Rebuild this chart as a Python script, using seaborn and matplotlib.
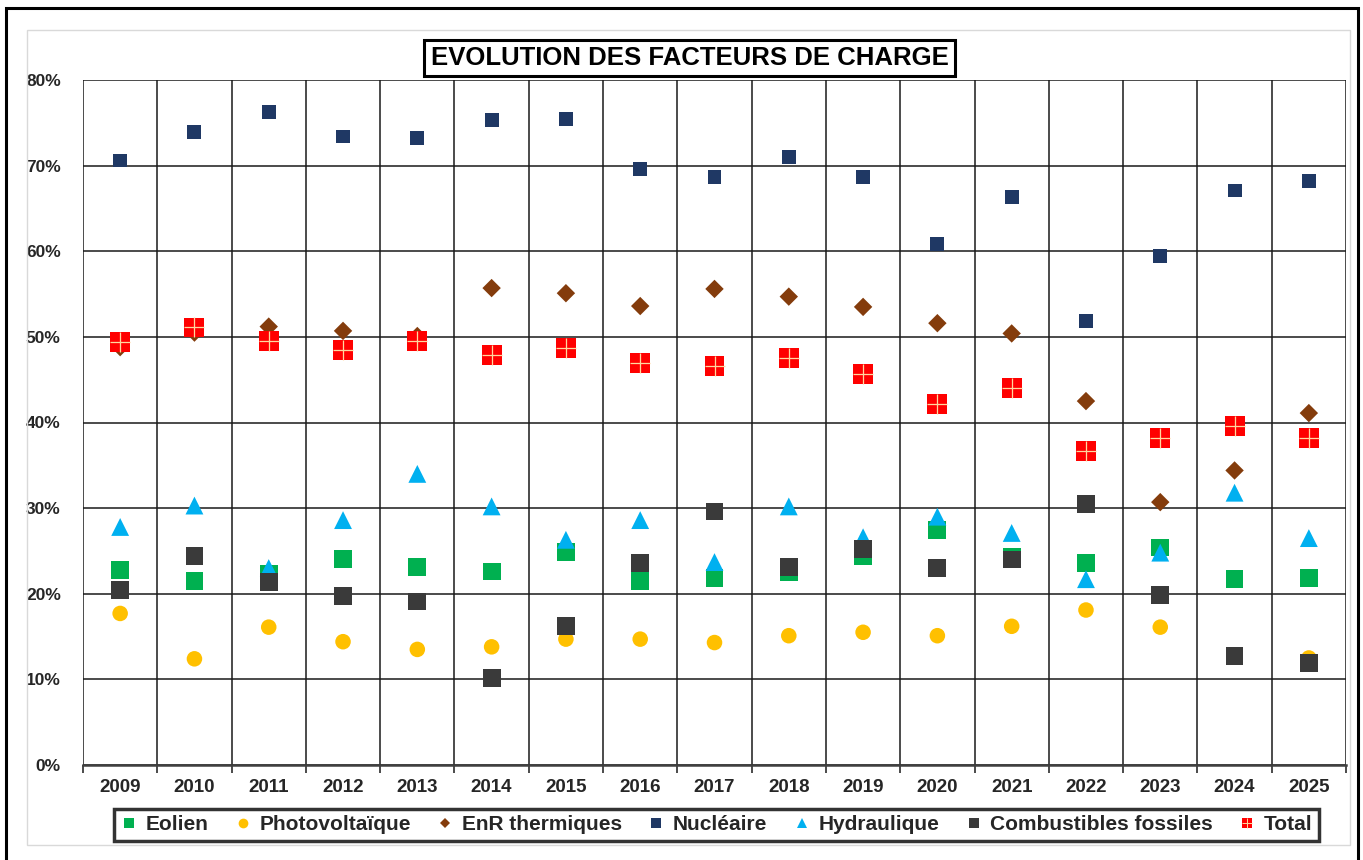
import numpy as np
import pandas as pd
import matplotlib
matplotlib.use("Agg")
import matplotlib.pyplot as plt
from matplotlib.lines import Line2D
from matplotlib.patches import Rectangle
from matplotlib.ticker import PercentFormatter, MultipleLocator
from matplotlib.legend_handler import HandlerTuple
import seaborn as sns

years = list(range(2009, 2026))
eolien = [22.8, 21.5, 22.3, 24.1, 23.1, 22.6, 24.9, 21.5, 21.8, 22.5, 24.4, 27.4, 24.3, 23.6, 25.4, 21.7, 21.8]
photovoltaique = [17.7, 12.4, 16.1, 14.4, 13.5, 13.8, 14.7, 14.7, 14.3, 15.1, 15.5, 15.1, 16.2, 18.1, 16.1, 12.6, 12.5]
enr_thermiques = [48.8, 50.5, 51.2, 50.7, 50.1, 55.7, 55.1, 53.6, 55.6, 54.7, 53.5, 51.6, 50.4, 42.5, 30.7, 34.4, 41.1]
nucleaire = [70.6, 73.9, 76.3, 73.4, 73.2, 75.3, 75.4, 69.6, 68.7, 71.0, 68.7, 60.8, 66.3, 51.9, 59.4, 67.1, 68.2]
hydraulique = [27.8, 30.3, 23.0, 28.6, 34.0, 30.2, 26.3, 28.6, 23.7, 30.2, 26.6, 29.0, 27.1, 21.7, 24.8, 31.8, 26.5]
fossiles = [20.4, 24.4, 21.4, 19.7, 19.1, 10.2, 16.2, 23.6, 29.6, 23.1, 25.2, 23.0, 24.0, 30.5, 19.9, 12.7, 11.9]
total = [49.4, 51.1, 49.5, 48.5, 49.5, 47.9, 48.7, 46.9, 46.6, 47.5, 45.7, 42.2, 44.0, 36.7, 38.2, 39.6, 38.2]

series_names = ["Eolien", "Photovoltaïque", "EnR thermiques", "Nucléaire", "Hydraulique",
                "Combustibles fossiles", "Total"]
series_values = [eolien, photovoltaique, enr_thermiques, nucleaire, hydraulique, fossiles, total]

colors = {"Eolien": "#00B050", "Photovoltaïque": "#FFC000", "EnR thermiques": "#843C0C",
          "Nucléaire": "#1F3864", "Hydraulique": "#00B0F0",
          "Combustibles fossiles": "#3A3A3A", "Total": "#FF0000"}
markers = {"Eolien": "s", "Photovoltaïque": "o", "EnR thermiques": "D", "Nucléaire": "s",
           "Hydraulique": "^", "Combustibles fossiles": "s", "Total": "s"}
sizes = {"Eolien": 165, "Photovoltaïque": 125, "EnR thermiques": 88, "Nucléaire": 100,
         "Hydraulique": 165, "Combustibles fossiles": 165, "Total": 205}

df = pd.concat([pd.DataFrame({"annee": years, "serie": name, "valeur": np.array(vals) / 100})
                for name, vals in zip(series_names, series_values)], ignore_index=True)

sns.set_theme(style="white")
plt.rcParams["font.family"] = ["Liberation Sans", "DejaVu Sans"]
plt.rcParams["font.weight"] = "bold"

fig = plt.figure(figsize=(13.63, 8.6), dpi=100)
ax = fig.add_axes([83 / 1363, 1 - 765 / 860, (1346 - 83) / 1363, (765 - 80) / 860])

sns.scatterplot(data=df, x="annee", y="valeur", hue="serie", style="serie", size="serie",
                palette=colors, markers=markers, sizes=sizes, linewidth=0,
                legend=False, ax=ax, zorder=3)
# petite croix claire sur les carres "Total"
tot = df[df["serie"] == "Total"]
ax.scatter(tot["annee"], tot["valeur"], marker="+", s=200, color="#FFD8A0", linewidths=0.9, zorder=4)

ax.set_xlim(2008.5, 2025.5)
ax.set_ylim(0, 0.8)
ax.set_xticks(years)
ax.set_xticks(np.arange(2008.5, 2026, 1), minor=True)
ax.yaxis.set_major_locator(MultipleLocator(0.1))
ax.yaxis.set_major_formatter(PercentFormatter(1.0, decimals=0))
ax.grid(axis="y", which="major", color="#1a1a1a", lw=1.1)
ax.grid(axis="x", which="minor", color="#1a1a1a", lw=1.1)
ax.set_axisbelow(True)
ax.tick_params(axis="x", which="major", length=0, pad=10, labelsize=13.5)
ax.tick_params(axis="x", which="minor", length=6, width=1.1, color="#1a1a1a", bottom=True)
ax.tick_params(axis="y", length=0, pad=16, labelsize=12.5)
for lab in ax.get_xticklabels() + ax.get_yticklabels():
    lab.set_fontweight("bold")
ax.set_xlabel("")
ax.set_ylabel("")
for side in ["top", "right", "left"]:
    ax.spines[side].set_visible(False)
ax.spines["bottom"].set_color("#404040")
ax.spines["bottom"].set_linewidth(1.8)

fig.text(689.5 / 1363, 1 - 58 / 860, "EVOLUTION DES FACTEURS DE CHARGE", ha="center", va="center",
         fontsize=18.5, fontweight="bold", color="black",
         bbox=dict(boxstyle="square,pad=0.25", facecolor="white", edgecolor="black", lw=2.2))

handles = []
for name in series_names:
    h = Line2D([], [], linestyle="none", marker=markers[name], color=colors[name],
               markersize=7 if markers[name] != "D" else 5.5, markeredgewidth=0)
    if name == "Total":
        h = (h, Line2D([], [], linestyle="none", marker="+", color="#FFD8A0",
                       markersize=7, markeredgewidth=0.7))
    handles.append(h)
leg = fig.legend(handles, series_names, loc="center", bbox_to_anchor=(716.5 / 1363, 1 - 825 / 860),
                 ncol=7, frameon=True, handlelength=0.8, handletextpad=0.4,
                 columnspacing=1.25, borderpad=0.3, fancybox=False,
                 handler_map={tuple: HandlerTuple(ndivide=1, pad=0)},
                 prop={"weight": "bold", "size": 15})
leg.get_frame().set_edgecolor("black")
leg.get_frame().set_linewidth(2.5)

fig.patches.append(Rectangle((27 / 1363, 1 - 845 / 860), (1350 - 27) / 1363, (845 - 30) / 860,
                             transform=fig.transFigure, fill=False, edgecolor="#D9D9D9", lw=1))
fig.patches.append(Rectangle((6 / 1363, -0.02), (1358 - 6) / 1363, 1.02 - 8 / 860,
                             transform=fig.transFigure, fill=False, edgecolor="black", lw=2.2))

fig.savefig("out.png", dpi=100)
